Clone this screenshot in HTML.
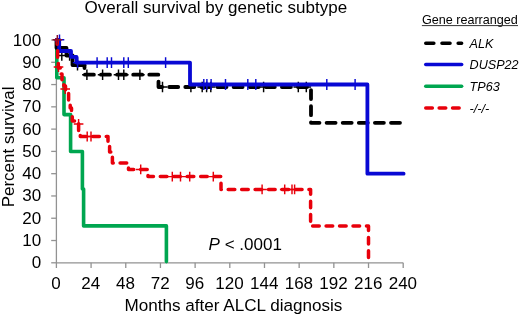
<!DOCTYPE html>
<html><head><meta charset="utf-8"><style>
html,body{margin:0;padding:0;background:#fff;width:520px;height:316px;overflow:hidden;font-family:"Liberation Sans",sans-serif;}
svg{display:block;will-change:transform}
</style></head><body>
<svg width="520" height="316" viewBox="0 0 520 316">
<g stroke="#929292" stroke-width="1.3" fill="none">
<path d="M56.4,40 V268.0"/>
<path d="M56.4,262.8 H403.20"/>
<path d="M51.199999999999996,262.80 H56.4"/>
<path d="M51.199999999999996,240.52 H56.4"/>
<path d="M51.199999999999996,218.24 H56.4"/>
<path d="M51.199999999999996,195.96 H56.4"/>
<path d="M51.199999999999996,173.68 H56.4"/>
<path d="M51.199999999999996,151.40 H56.4"/>
<path d="M51.199999999999996,129.12 H56.4"/>
<path d="M51.199999999999996,106.84 H56.4"/>
<path d="M51.199999999999996,84.56 H56.4"/>
<path d="M51.199999999999996,62.28 H56.4"/>
<path d="M51.199999999999996,40.00 H56.4"/>
<path d="M91.08,262.8 V268.0"/>
<path d="M125.76,262.8 V268.0"/>
<path d="M160.44,262.8 V268.0"/>
<path d="M195.12,262.8 V268.0"/>
<path d="M229.80,262.8 V268.0"/>
<path d="M264.48,262.8 V268.0"/>
<path d="M299.16,262.8 V268.0"/>
<path d="M333.84,262.8 V268.0"/>
<path d="M368.52,262.8 V268.0"/>
<path d="M403.20,262.8 V268.0"/>
</g>
<g font-family="Liberation Sans, sans-serif" font-size="17" fill="#000">
<text x="41.2" y="268.30" text-anchor="end">0</text>
<text x="41.2" y="246.02" text-anchor="end">10</text>
<text x="41.2" y="223.74" text-anchor="end">20</text>
<text x="41.2" y="201.46" text-anchor="end">30</text>
<text x="41.2" y="179.18" text-anchor="end">40</text>
<text x="41.2" y="156.90" text-anchor="end">50</text>
<text x="41.2" y="134.62" text-anchor="end">60</text>
<text x="41.2" y="112.34" text-anchor="end">70</text>
<text x="41.2" y="90.06" text-anchor="end">80</text>
<text x="41.2" y="67.78" text-anchor="end">90</text>
<text x="41.2" y="45.50" text-anchor="end">100</text>
<text x="56.10" y="288.7" text-anchor="middle">0</text>
<text x="90.78" y="288.7" text-anchor="middle">24</text>
<text x="125.46" y="288.7" text-anchor="middle">48</text>
<text x="160.14" y="288.7" text-anchor="middle">72</text>
<text x="194.82" y="288.7" text-anchor="middle">96</text>
<text x="229.50" y="288.7" text-anchor="middle">120</text>
<text x="264.18" y="288.7" text-anchor="middle">144</text>
<text x="298.86" y="288.7" text-anchor="middle">168</text>
<text x="333.54" y="288.7" text-anchor="middle">192</text>
<text x="368.22" y="288.7" text-anchor="middle">216</text>
<text x="402.90" y="288.7" text-anchor="middle">240</text>
</g>
<path d="M56.8,40 V77.8 H64 V114.6 H70.6 V151.5 H82.4 V189 H83.6 V225.9 H166.4 V261.6" fill="none" stroke="#00a650" stroke-width="3.6" stroke-linecap="round" stroke-linejoin="round"/>
<path d="M56.5,40 V47.9 H66.5 V55.5 H72.5 V65.1 H84.5" fill="none" stroke="#000000" stroke-width="3.8" stroke-linecap="round" stroke-linejoin="round"/>
<path d="M84.5,65.1 V74.7 H158.5 V87 H311 V122.8 H402.5" fill="none" stroke="#000000" stroke-width="3.8" stroke-linecap="round" stroke-linejoin="round" stroke-dasharray="9.0 7.1" stroke-dashoffset="6.1"/>
<g stroke="#000000" stroke-width="1.45" fill="none"><path d="M57.0,55.5 H66.6 M61.8,50.2 V60.8"/><path d="M64.8,55.5 H74.39999999999999 M69.6,50.2 V60.8"/><path d="M72.7,65.3 H82.3 M77.5,60.0 V70.6"/><path d="M82.10000000000001,74.7 H91.7 M86.9,69.4 V80.0"/><path d="M97.8,74.7 H107.39999999999999 M102.6,69.4 V80.0"/><path d="M113.7,74.7 H123.3 M118.5,69.4 V80.0"/><path d="M119.0,74.7 H128.6 M123.8,69.4 V80.0"/><path d="M135.1,74.7 H144.70000000000002 M139.9,69.4 V80.0"/><path d="M157.7,87 H167.3 M162.5,81.7 V92.3"/><path d="M186.1,87 H195.70000000000002 M190.9,81.7 V92.3"/><path d="M197.39999999999998,87 H207.0 M202.2,81.7 V92.3"/><path d="M201.79999999999998,87 H211.4 M206.6,81.7 V92.3"/><path d="M206.0,87 H215.60000000000002 M210.8,81.7 V92.3"/><path d="M258.8,87 H268.40000000000003 M263.6,81.7 V92.3"/><path d="M293.5,87 H303.1 M298.3,81.7 V92.3"/><path d="M301.5,87 H311.1 M306.3,81.7 V92.3"/></g>
<path d="M56.5,40 H59.2 V51 H71 V56.8 H76.5 V62.6 H190 V84.5 H367.4 V173.7 H403.6" fill="none" stroke="#0808d4" stroke-width="3.8" stroke-linecap="round" stroke-linejoin="round"/>
<g stroke="#0808d4" stroke-width="1.45" fill="none"><path d="M54.7,39.8 H64.3 M59.5,34.4 V45.199999999999996"/><path d="M72.8,62.6 H82.39999999999999 M77.6,57.2 V68.0"/><path d="M92.3,62.6 H101.89999999999999 M97.1,57.2 V68.0"/><path d="M102.4,62.6 H112.0 M107.2,57.2 V68.0"/><path d="M106.7,62.6 H116.3 M111.5,57.2 V68.0"/><path d="M119.0,62.6 H128.6 M123.8,57.2 V68.0"/><path d="M123.50000000000001,62.6 H133.10000000000002 M128.3,57.2 V68.0"/><path d="M160.79999999999998,62.6 H170.4 M165.6,57.2 V68.0"/><path d="M199.0,84.5 H208.60000000000002 M203.8,79.1 V89.9"/><path d="M202.1,84.5 H211.70000000000002 M206.9,79.1 V89.9"/><path d="M206.29999999999998,84.5 H215.9 M211.1,79.1 V89.9"/><path d="M220.7,84.5 H230.3 M225.5,79.1 V89.9"/><path d="M243.0,84.5 H252.60000000000002 M247.8,79.1 V89.9"/><path d="M251.0,84.5 H260.6 M255.8,79.1 V89.9"/><path d="M322.0,84.5 H331.6 M326.8,79.1 V89.9"/><path d="M350.3,84.5 H359.90000000000003 M355.1,79.1 V89.9"/></g>
<path d="M56.5,40 H57.2 V50 H57.6 V60 H58.3 V68 H60.5 V74 H62 V80 H63.8 V86 H65.5 V92 H68.6 V102 H70.2 V108 H71.5 V114 H72.3 V121 H78.6 V130.5 H80.3 V136.5 H108 V143 H109.6 V152 H112.4 V163 H128.5 V169.4 H148 V176.6 H221 V189.4 H310.6 V226 H368.5 V263" fill="none" stroke="#e8000b" stroke-width="3.5" stroke-linecap="round" stroke-linejoin="round" stroke-dasharray="6.6 6.85" stroke-dashoffset="1.7"/>
<g stroke="#e8000b" stroke-width="1.45" fill="none"><path d="M53.7,67 H63.3 M58.5,62.1 V71.9"/><path d="M60.400000000000006,89 H70.0 M65.2,84.1 V93.9"/><path d="M73.8,124 H83.39999999999999 M78.6,119.1 V128.9"/><path d="M82.4,136.5 H92.0 M87.2,131.6 V141.4"/><path d="M86.2,136.5 H95.8 M91,131.6 V141.4"/><path d="M135.89999999999998,169.4 H145.5 M140.7,164.5 V174.3"/><path d="M167.5,176.6 H177.10000000000002 M172.3,171.7 V181.5"/><path d="M175.7,176.6 H185.3 M180.5,171.7 V181.5"/><path d="M184.89999999999998,176.6 H194.5 M189.7,171.7 V181.5"/><path d="M208.5,176.6 H218.10000000000002 M213.3,171.7 V181.5"/><path d="M257.3,189.4 H266.90000000000003 M262.1,184.5 V194.3"/><path d="M279.9,189.4 H289.5 M284.7,184.5 V194.3"/><path d="M287.2,189.4 H296.8 M292,184.5 V194.3"/><path d="M289.8,189.4 H299.40000000000003 M294.6,184.5 V194.3"/></g>
<g stroke="#8a1028" stroke-width="1.45" fill="none"><path d="M52.5,39.8 H62.099999999999994 M57.3,35.099999999999994 V44.5"/></g>
<g font-family="Liberation Sans, sans-serif" font-size="12.6" fill="#000">
<text x="421.9" y="23.5">Gene rearranged</text>
</g>
<path d="M421.9,25.6 H518" stroke="#333" stroke-width="1"/>
<path d="M425.75,43.2 H461.65" fill="none" stroke="#000000" stroke-width="3.5" stroke-linecap="round" stroke-linejoin="round" stroke-dasharray="8.1 8.1" stroke-dashoffset="0"/>
<text x="469.6" y="47.8" font-family="Liberation Sans, sans-serif" font-size="12.6" font-style="italic">ALK</text>
<path d="M425.75,64.4 H461.65" fill="none" stroke="#0808d4" stroke-width="3.5" stroke-linecap="round" stroke-linejoin="round"/>
<text x="469.6" y="69.0" font-family="Liberation Sans, sans-serif" font-size="12.6" font-style="italic">DUSP22</text>
<path d="M425.75,86.3 H461.65" fill="none" stroke="#00a650" stroke-width="3.5" stroke-linecap="round" stroke-linejoin="round"/>
<text x="469.6" y="90.9" font-family="Liberation Sans, sans-serif" font-size="12.6" font-style="italic">TP63</text>
<path d="M425.75,107.9 H461.65" fill="none" stroke="#e8000b" stroke-width="3.5" stroke-linecap="round" stroke-linejoin="round" stroke-dasharray="6.6 6.8" stroke-dashoffset="0"/>
<text x="469.6" y="112.5" font-family="Liberation Sans, sans-serif" font-size="12.6" font-style="italic">-/-/-</text>
<text x="208.6" y="250" font-family="Liberation Sans, sans-serif" font-size="17"><tspan font-style="italic">P</tspan> &lt; .0001</text>
<text x="215.8" y="12.8" text-anchor="middle" font-family="Liberation Sans, sans-serif" font-size="17" id="title">Overall survival by genetic subtype</text>
<text x="233.45" y="311" text-anchor="middle" font-family="Liberation Sans, sans-serif" font-size="17.1">Months after ALCL diagnosis</text>
<text transform="translate(13.5,146.9) rotate(-90)" text-anchor="middle" font-family="Liberation Sans, sans-serif" font-size="17">Percent survival</text>
</svg>
</body></html>
